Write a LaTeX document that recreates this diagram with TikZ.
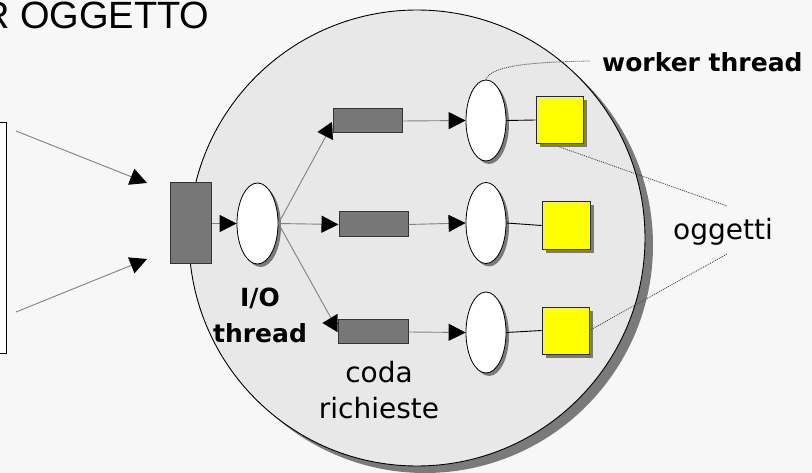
\documentclass[tikz,border=0pt]{standalone}
\usepackage{fontspec}
\setmainfont{Liberation Sans}
\newfontfamily\handfont{DejaVu Sans}
\usetikzlibrary{arrows.meta,shapes.geometric,shadows,calc}

\definecolor{bg}{HTML}{F7F7F7}
\definecolor{disc}{HTML}{E8E8E8}
\definecolor{qfill}{HTML}{777777}
\definecolor{objyellow}{HTML}{FFFF00}
\definecolor{shade}{HTML}{7A7A7A}
\definecolor{feedgray}{HTML}{808080}

\begin{document}
\begin{tikzpicture}[x=1pt,y=-1pt,
  queue/.style={rectangle, draw=black!80, fill=qfill, line width=1pt,
    minimum width=69pt, minimum height=24pt, inner sep=0pt},
  thr/.style={ellipse, draw=black, fill=white, line width=0.8pt,
    minimum width=40pt, minimum height=81pt, inner sep=0pt,
    drop shadow={shadow xshift=3pt, shadow yshift=-3pt, fill=shade, opacity=1}},
  obj/.style={rectangle, draw=black!85, fill=objyellow, line width=0.9pt,
    minimum width=47pt, minimum height=47pt, inner sep=0pt,
    drop shadow={shadow xshift=4pt, shadow yshift=-4pt, fill=shade, opacity=1}},
  feed/.style={draw=feedgray, line width=0.9pt,
    -{Triangle[length=17pt,width=17pt,color=black]}},
  headonly/.style={draw=black, line width=0.1pt,
    -{Triangle[length=15pt,width=18pt,color=black]}},
  link/.style={draw=black, line width=0.9pt},
  leader/.style={draw=black!75, line width=0.8pt, dash pattern=on 1pt off 1pt},
  boldlabel/.style={font=\handfont\bfseries\fontsize{25}{30}\selectfont, inner sep=0pt},
  plainlabel/.style={font=\handfont\fontsize{28}{32}\selectfont, inner sep=0pt}
]
% page and background
\useasboundingbox (0,0) rectangle (812,473);
\fill[bg] (0,0) rectangle (812,473);

% title, cut by the page edge
\node[anchor=base west, inner sep=0pt, font=\fontsize{38}{40}\selectfont] (title) at (-18,29) {R OGGETTO};

% client box at the left margin
\node[rectangle, draw=black, fill=white, line width=1pt,
  minimum width=30pt, minimum height=231pt, inner sep=0pt] (client) at (-9,238.5) {};

% server process
\node[circle, draw=black, fill=disc, line width=0.9pt, minimum size=456pt, inner sep=0pt,
  drop shadow={shadow xshift=8pt, shadow yshift=-7pt, fill=shade, opacity=1}] (server) at (417,238) {};

% input queue and I/O thread
\node[queue, minimum width=41pt, minimum height=81pt] (inq) at (190.5,223.5) {};
\node[thr, minimum width=41pt] (io) at (257.5,223.5) {};

% request queues
\node[queue] (q1) at (367.5,121) {};
\node[queue, minimum height=25pt] (q2) at (373.5,224.5) {};
\node[queue, minimum width=70pt] (q3) at (373,332) {};

% worker threads
\node[thr] (w1) at (486,120.5) {};
\node[thr] (w2) at (486,223) {};
\node[thr] (w3) at (486,332.5) {};

% objects
\node[obj] (o1) at (559.5,120) {};
\node[obj, minimum width=48pt, minimum height=48pt] (o2) at (566,225.5) {};
\node[obj] (o3) at (565.5,330.5) {};

% incoming requests
\coordinate (s1) at (16,131);
\coordinate (e1) at (147,183);
\coordinate (s2) at (16,312);
\coordinate (e2) at (147,259);
\draw[feed] (s1) -- (e1);
\draw[feed] (s2) -- (e2);

% input queue to I/O thread
\draw[feed] (inq.east) -- (io.west);

% dispatch from the I/O thread to the request queues
\coordinate (k1) at (326,136);
\coordinate (k3) at (331,318);
\draw[draw=feedgray, line width=0.9pt] (io.east) -- (k1);
\draw[headonly] ($(q1.west)+(0,10)$) -- ++(-15,1);
\draw[feed] (io.east) -- (q2.west);
\draw[draw=feedgray, line width=0.9pt] (io.east) -- (k3);
\draw[headonly] ($(q3.west)+(0,-9)$) -- ++(-15,0);

% request queues to worker threads
\draw[feed] (q1.east) -- (w1.west);
\draw[feed] (q2.east) -- (w2.west);
\draw[feed] (q3.east) -- (w3.west);

% worker threads to objects
\draw[link] (w1.east) -- (o1.west);
\draw[link] (w2.east) -- (o2.west);
\draw[link] (w3.east) -- (o3.west);

% leaders
\coordinate (wl) at (590,61);
\coordinate (ol1) at (727,206);
\coordinate (ol3) at (727,254);
\draw[leader] (w1.north) .. controls (490,66) and (530,62) .. (wl);
\draw[leader] ($(o1.south)+(0,3)$) -- (ol1);
\draw[leader] (o3.east) -- (ol3);

% labels
\node[boldlabel, anchor=base west] (wlabel) at (602,72) {worker thread};
\node[plainlabel, anchor=base west] (olabel) at (673,240) {oggetti};
\node[boldlabel, anchor=base] (iolabel) at (260,307) {I/O};
\node[boldlabel, anchor=base] (thlabel) at (260,343) {thread};
\node[plainlabel, anchor=base] (cdlabel) at (379,382) {coda};
\node[plainlabel, anchor=base] (rqlabel) at (379,418) {richieste};
\end{tikzpicture}
\end{document}
